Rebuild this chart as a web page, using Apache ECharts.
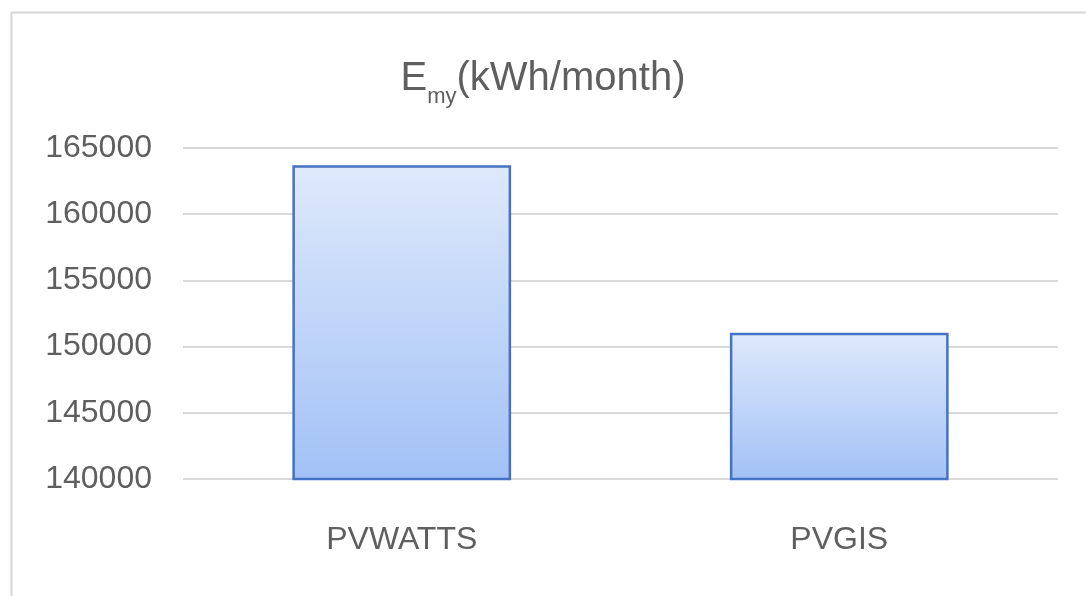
<!DOCTYPE html>
<html lang="en">
<head>
    <meta charset="UTF-8">
    <title>Emy</title>
    <script src="https://cdn.jsdelivr.net/npm/echarts@6/dist/echarts.min.js"></script>
    <style>
        html, body { margin: 0; padding: 0; background: #fff; }
        #main { width: 1086px; height: 596px; }
    </style>
</head>
<body>
    <div id="main"></div>
    <script>
        // data
        var categories = ['PVWATTS', 'PVGIS'];
        var energy = [163700, 151050];
        var yTicks = [140000, 145000, 150000, 155000, 160000, 165000];

        var chart = echarts.init(document.getElementById('main'));

        var option = {
            backgroundColor: '#fff',
            animation: false,
            textStyle: { fontFamily: 'Liberation Sans, Arial, sans-serif' },
            title: {
                left: 'center',
                top: 54,
                text: '{e|E}{s|my}{p|(kWh/month)}',
                textStyle: {
                    fontWeight: 'normal',
                    rich: {
                        e: { fontSize: 40, color: '#5f5f5f', fontWeight: 'normal', fontFamily: 'Liberation Sans' },
                        s: { fontSize: 22, color: '#5f5f5f', fontWeight: 'normal', fontFamily: 'Liberation Sans', verticalAlign: 'bottom', padding: [0, 0, -9, 0] },
                        p: { fontSize: 40, color: '#5f5f5f', fontWeight: 'normal', fontFamily: 'Liberation Sans' }
                    }
                }
            },
            graphic: [{
                type: 'rect',
                left: 9,
                top: 10,
                shape: { width: 1100, height: 620 },
                style: { fill: 'none', stroke: '#d6d6d6', lineWidth: 2 },
                silent: true
            }],
            grid: { left: 183, right: 28, top: 148, bottom: 117 },
            xAxis: {
                type: 'category',
                data: categories,
                axisLine: { show: false },
                axisTick: { show: false },
                axisLabel: { color: '#5f5f5f', fontSize: 32, margin: 45 }
            },
            yAxis: {
                type: 'value',
                min: yTicks[0],
                max: yTicks[yTicks.length - 1],
                interval: yTicks[1] - yTicks[0],
                axisLine: { show: false },
                axisTick: { show: false },
                axisLabel: {
                    color: '#5f5f5f',
                    fontSize: 32,
                    margin: 31,
                    formatter: function (v) { return String(v); }
                },
                splitLine: { lineStyle: { color: '#d9d9d9', width: 2 } }
            },
            series: [{
                type: 'bar',
                data: energy,
                barWidth: '50%',
                itemStyle: {
                    color: new echarts.graphic.LinearGradient(0, 0, 0, 1, [
                        { offset: 0, color: '#dee9fb' },
                        { offset: 1, color: '#a2c1f6' }
                    ]),
                    borderColor: '#4472c4',
                    borderWidth: 2.5
                }
            }]
        };

        chart.setOption(option);
    </script>
</body>
</html>
